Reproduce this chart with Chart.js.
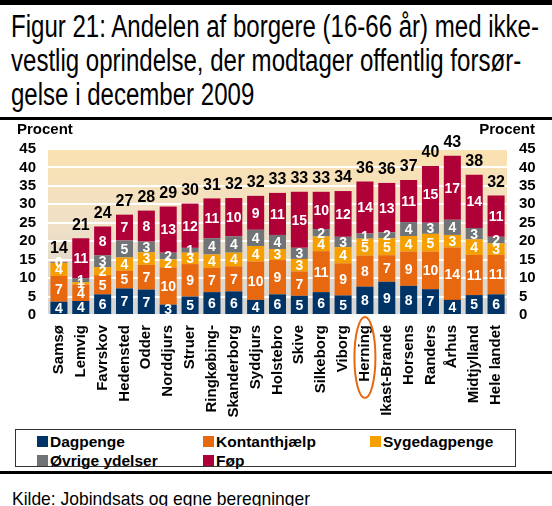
<!DOCTYPE html>
<html><head><meta charset="utf-8">
<script src="https://cdn.jsdelivr.net/npm/chart.js@4.4.1/dist/chart.umd.min.js"></script>
<style>
html,body{margin:0;padding:0;background:#fff;}
body{width:552px;height:506px;position:relative;overflow:hidden;font-family:"Liberation Sans",Arial,sans-serif;}
.rule{position:absolute;left:0;width:552px;background:#000;}
#title{position:absolute;left:11px;top:10px;font-family:"Liberation Sans Narrow","Arial Narrow","Liberation Sans",sans-serif;font-size:31px;line-height:34px;color:#000;white-space:nowrap;transform-origin:0 0;}
#title span{display:inline-block;}
#chartbox{position:absolute;left:0;top:120px;width:552px;height:306px;}
#legend{position:absolute;left:15px;top:429px;width:499px;height:36px;border:1px solid #333;}
.item{position:absolute;height:11px;display:flex;align-items:center;font:bold 15.5px "Liberation Sans",Arial,sans-serif;color:#000;white-space:nowrap;}
.sw{width:11px;height:11px;margin-right:2px;flex:none;}
#kilde{position:absolute;left:12px;top:489px;font-family:"Liberation Sans Narrow","Arial Narrow","Liberation Sans",sans-serif;font-size:19px;line-height:19px;white-space:nowrap;transform-origin:0 0;color:#000;}
</style></head>
<body>
<div class="rule" style="top:0;height:5px"></div>
<div id="title"><span id="t1">Figur 21: Andelen af borgere (16-66 år) med ikke-</span><br><span>vestlig oprindelse, der modtager offentlig forsør-</span><br><span>gelse i december 2009</span></div>
<div class="rule" style="top:117px;height:3px"></div>
<div id="chartbox"><canvas id="c" width="552" height="306"></canvas></div>
<div id="legend"></div>
<div class="rule" style="top:471px;height:3px"></div>
<div id="kilde">Kilde: Jobindsats og egne beregninger</div>
<script>
const categories = ['Samsø','Lemvig','Favrskov','Hedensted','Odder','Norddjurs','Struer','Ringkøbing-','Skanderborg','Syddjurs','Holstebro','Skive','Silkeborg','Viborg','Herning','Ikast-Brande','Horsens','Randers','Århus','Midtjylland','Hele landet'];
const dagpenge     = [3.6,3.8,5.6,7.2,6.9,2.8,5.0,6.2,6.4,4.1,5.6,5.2,6.2,5.3,7.7,9.0,7.9,7.0,4.1,5.4,5.6];
const kontanthjaelp= [7.0,4.4,5.2,4.8,6.7,10.1,8.8,6.6,6.8,10.4,9.3,6.6,11.1,8.7,8.4,7.2,9.3,10.2,14.2,10.9,10.7];
const sygedagpenge = [3.5,0.7,2.2,3.6,3.4,2.2,3.1,3.6,3.7,4.2,3.0,3.4,4.0,4.4,4.6,4.6,4.2,4.8,3.4,4.2,3.1];
const ovrige       = [0.2,1.1,3.2,4.6,2.9,1.8,1.3,4.4,4.4,4.4,3.8,3.0,2.0,2.8,1.4,1.6,3.8,3.0,4.1,3.1,1.8];
const foep         = [0.1,10.8,7.8,7.0,8.4,12.5,12.0,10.8,10.4,9.2,11.4,15.2,10.1,12.4,14.1,13.4,11.4,15.4,17.4,14.4,11.2];
const totals       = [14,21,24,27,28,29,30,31,32,32,33,33,33,34,36,36,37,40,43,38,32];
const seriesNames  = ['Dagpenge','Kontanthjælp','Sygedagpenge','Øvrige ydelser','Føp'];
const seriesColors = ['#003366','#e8680f','#f5a000','#717476','#b00038'];
const yTicksMax = 45, yTickStep = 5;
const highlighted = 'Herning';

// legend (HTML)
const legendPos = [[21,6],[187,6],[354,6],[21,25],[187,25]];
const lg = document.getElementById('legend');
seriesNames.forEach((n,i)=>{
  const d=document.createElement('div'); d.className='item';
  d.style.left=legendPos[i][0]+'px'; d.style.top=legendPos[i][1]+'px';
  d.innerHTML='<span class="sw" style="background:'+seriesColors[i]+'"></span><span>'+n+'</span>';
  lg.appendChild(d);
});

// fit narrow texts
function fit(el, inner, w){ const s = w / inner.getBoundingClientRect().width; el.style.transform='scaleX('+s+')'; }
fit(document.getElementById('title'), document.getElementById('t1'), 528);
const k=document.getElementById('kilde'); k.style.display='inline-block'; fit(k,k,298);

const F = 'Liberation Sans, Arial, sans-serif';
const bgPlugin = {
  id:'bg',
  beforeDraw(chart){
    const {ctx, chartArea:a} = chart;
    const g = ctx.createLinearGradient(0,a.top,0,a.bottom);
    g.addColorStop(0,'#fae1b0');
    g.addColorStop(0.45,'#f0e0c6');
    g.addColorStop(1,'#d5d5d5');
    ctx.save(); ctx.fillStyle=g; ctx.fillRect(a.left,a.top,a.right-a.left,a.bottom-a.top); ctx.restore();
  }
};
const labelPlugin = {
  id:'lbl',
  afterDatasetsDraw(chart){
    const ctx = chart.ctx;
    ctx.save();
    ctx.textAlign='center'; ctx.textBaseline='middle';
    ctx.font='bold 14px '+F; ctx.fillStyle='#fff';
    chart.data.datasets.forEach((ds,di)=>{
      chart.getDatasetMeta(di).data.forEach((bar,i)=>{
        ctx.fillText(String(Math.round(ds.data[i])), bar.x, (bar.y+bar.base)/2+1);
      });
    });
    ctx.font='bold 16px '+F; ctx.fillStyle='#000';
    const last = chart.getDatasetMeta(chart.data.datasets.length-1);
    last.data.forEach((bar,i)=>{ ctx.fillText(String(totals[i]), bar.x, bar.y-13); });
    ctx.restore();
  },
  afterDraw(chart){
    const ctx = chart.ctx, a = chart.chartArea, xs = chart.scales.x;
    ctx.save();
    ctx.font='bold 15px '+F; ctx.fillStyle='#000'; ctx.textBaseline='alphabetic';
    ctx.textAlign='left'; ctx.fillText('Procent', 17, 14);
    ctx.textAlign='right'; ctx.fillText('Procent', 535, 14);
    // highlight ellipse around label
    const cx = xs.getPixelForValue(categories.indexOf(highlighted));
    ctx.strokeStyle='#e8680f'; ctx.lineWidth=2;
    ctx.beginPath(); ctx.ellipse(cx, a.bottom+42.5, 10.5, 40.5, 0, 0, Math.PI*2); ctx.stroke();
    ctx.restore();
  }
};
const tickFont = {family:F, size:15, weight:'bold'};
new Chart(document.getElementById('c'), {
  type:'bar',
  data:{labels:categories, datasets:[dagpenge,kontanthjaelp,sygedagpenge,ovrige,foep].map((d,i)=>({label:seriesNames[i], data:d, backgroundColor:seriesColors[i], borderWidth:0}))},
  options:{
    responsive:false, animation:false, devicePixelRatio:1,
    layout:{padding:{top:29,left:0,right:0,bottom:0}},
    plugins:{legend:{display:false}, tooltip:{enabled:false}},
    datasets:{bar:{barPercentage:0.78, categoryPercentage:1}},
    scales:{
      x:{stacked:true, grid:{display:false, drawTicks:false}, border:{display:false},
         ticks:{autoSkip:false, maxRotation:90, minRotation:90, padding:10, color:'#000', font:tickFont},
         afterFit:s=>{s.height=111;}},
      y:{stacked:true, position:'left', min:0, max:yTicksMax,
         ticks:{stepSize:yTickStep, autoSkip:false, padding:12, color:'#000', font:tickFont},
         grid:{color:'#ffffff', lineWidth:2, drawTicks:false}, border:{display:false},
         afterFit:s=>{s.width=48;}},
      y2:{position:'right', min:0, max:yTicksMax,
         ticks:{stepSize:yTickStep, autoSkip:false, padding:12, color:'#000', font:tickFont},
         grid:{display:false, drawTicks:false}, border:{display:false},
         afterFit:s=>{s.width=45;}}
    }
  },
  plugins:[bgPlugin, labelPlugin]
});
</script>
</body></html>
